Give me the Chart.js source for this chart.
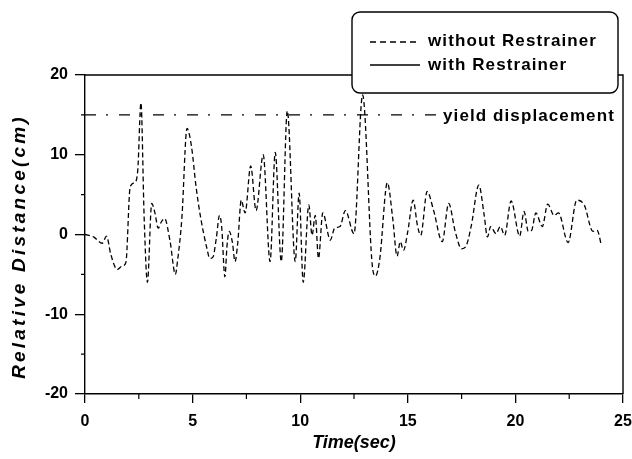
<!DOCTYPE html>
<html>
<head>
<meta charset="utf-8">
<script src="https://cdn.jsdelivr.net/npm/chart.js@4"></script>
<style>
  html, body { margin: 0; padding: 0; background: #fff; }
  canvas { display: block; }
</style>
</head>
<body>
<canvas id="chartCanvas" width="632" height="459"></canvas>
<script>
// time axis (sec) and relative distance (cm)
const timeSec = [0, 0.4, 0.8, 1.0, 1.2, 1.5, 1.7, 1.9, 2.1, 2.3, 2.45, 2.6, 2.75, 2.9, 3.1, 3.25, 3.4, 3.55, 3.7, 3.95,
  4.2, 4.3, 4.5, 4.74, 4.95, 5.16, 5.35, 5.67, 5.8, 5.95, 6.1, 6.25, 6.35, 6.5, 6.6, 6.7, 6.85, 6.97, 7.1, 7.26,
  7.44, 7.7, 7.95, 8.28, 8.6, 8.84, 9.12, 9.4, 9.77, 9.95, 10.14, 10.4, 10.55, 10.7, 10.85, 11.05, 11.4, 11.6, 11.85, 12.1,
  12.5, 12.9, 13.35, 13.5, 13.7, 14.05, 14.3, 14.5, 14.65, 14.8, 15.0, 15.25, 15.45, 15.6, 15.9, 16.2, 16.6, 16.9, 17.2, 17.5,
  17.7, 17.95, 18.3, 18.55, 18.7, 18.85, 19.1, 19.3, 19.5, 19.8, 20.2, 20.4, 20.6, 20.75, 20.95, 21.25, 21.5, 21.8, 22.0, 22.45,
  22.85, 23.2, 23.6, 23.8, 24.0];
const withoutRestrainer = [0, -0.3, -1.1, -0.2, -2.5, -4.4, -4.0, -3.5, 6.0, 6.5, 8.0, 16.5, 2.0, -6.0, 3.9, 2.7, 0.8, 1.6, 2.0, -0.8,
  -5.0, -3.3, 2.0, 13.3, 11.0, 6.0, 2.5, -1.8, -3.0, -2.8, -0.5, 2.4, 1.0, -5.3, -1.4, 0.4, -1.0, -3.4, -1.0, 4.3,
  2.7, 8.6, 3.0, 10.0, -3.4, 10.3, -3.4, 15.5, -3.4, 5.2, -6.0, 3.7, -0.1, 2.4, -3.0, 2.7, -0.7, 0.8, 1.0, 3.0,
  0.1, 17.5, -3.9, -5.2, -3.0, 6.5, 2.0, -2.7, -0.9, -2.0, 0.4, 4.3, 1.1, -0.1, 5.4, 3.0, -0.9, 3.9, 0.4, -1.8,
  -1.5, 1.1, 6.2, 2.4, -0.3, 1.0, 0.1, 1.0, -0.1, 4.2, -0.2, 2.9, 0.4, 0.5, 2.7, 1.0, 3.8, 2.4, 2.7, -1.0,
  4.3, 3.7, 0.4, 0.5, -1.4];
const withRestrainer = [];
const yieldTime = [0, 16.5];
const yieldDisp = [15, 15];
const xTicks = [0, 5, 10, 15, 20, 25];
const yTicks = [-20, -10, 0, 10, 20];
const xMinor = [2.5, 7.5, 12.5, 17.5, 22.5];
const yMinor = [-15, -5, 5, 15];

const FONT = '"Liberation Sans", Arial, sans-serif';

const paperPlugin = {
  id: 'paper',
  afterDraw(chart) {
    const ctx = chart.ctx;
    const a = chart.chartArea;
    const xs = chart.scales.x, ys = chart.scales.y;
    ctx.save();
    ctx.strokeStyle = '#000';
    ctx.lineWidth = 1.4;
    // top and right frame
    ctx.beginPath();
    ctx.moveTo(a.left, a.top);
    ctx.lineTo(a.right, a.top);
    ctx.lineTo(a.right, a.bottom);
    ctx.stroke();
    // minor ticks
    ctx.lineWidth = 1.2;
    ctx.beginPath();
    xMinor.forEach(v => {
      const px = xs.getPixelForValue(v);
      ctx.moveTo(px, a.bottom);
      ctx.lineTo(px, a.bottom + 5);
    });
    yMinor.forEach(v => {
      const py = ys.getPixelForValue(v);
      ctx.moveTo(a.left, py);
      ctx.lineTo(a.left - 4, py);
    });
    ctx.stroke();

    // yield displacement label
    const yy = ys.getPixelForValue(yieldDisp[0]);
    ctx.fillStyle = '#000';
    ctx.font = 'bold 17px ' + FONT;
    ctx.letterSpacing = '1.1px';
    ctx.textBaseline = 'middle';
    ctx.textAlign = 'left';
    ctx.fillText('yield displacement', 443, yy + 1);

    // legend box
    const bx = 352, by = 12, bw = 266, bh = 81, r = 8;
    ctx.beginPath();
    ctx.roundRect(bx, by, bw, bh, r);
    ctx.fillStyle = '#fff';
    ctx.fill();
    ctx.lineWidth = 1.4;
    ctx.strokeStyle = '#000';
    ctx.stroke();
    ctx.lineWidth = 1.3;
    ctx.beginPath();
    ctx.setLineDash([6, 4]);
    ctx.moveTo(370, 42);
    ctx.lineTo(420, 42);
    ctx.stroke();
    ctx.setLineDash([]);
    ctx.beginPath();
    ctx.moveTo(370, 65);
    ctx.lineTo(420, 65);
    ctx.stroke();
    ctx.fillStyle = '#000';
    ctx.fillText('without Restrainer', 428, 41);
    ctx.fillText('with Restrainer', 428, 65);

    // y axis title
    ctx.font = 'bold italic 19px ' + FONT;
    ctx.letterSpacing = '3.2px';
    ctx.textAlign = 'center';
    ctx.translate(20, (a.top + a.bottom) / 2 + 12);
    ctx.rotate(-Math.PI / 2);
    ctx.fillText('Relative Distance(cm)', 0, 0);
    ctx.restore();
  }
};

const ctx = document.getElementById('chartCanvas').getContext('2d');
new Chart(ctx, {
  type: 'line',
  data: {
    datasets: [
      {
        label: 'without Restrainer',
        data: timeSec.map((t, i) => ({ x: t, y: withoutRestrainer[i] })),
        borderColor: '#000',
        borderWidth: 1.3,
        borderDash: [5, 3],
        pointRadius: 0,
        cubicInterpolationMode: 'monotone',
        fill: false
      },
      {
        label: 'with Restrainer',
        data: withRestrainer,
        borderColor: '#000',
        borderWidth: 1.3,
        pointRadius: 0
      },
      {
        label: 'yield displacement',
        data: yieldTime.map((t, i) => ({ x: t, y: yieldDisp[i] })),
        borderColor: '#000',
        borderWidth: 1.3,
        borderDash: [11, 10, 2, 11],
        pointRadius: 0,
        tension: 0
      }
    ]
  },
  options: {
    responsive: false,
    animation: false,
    layout: { padding: { top: 75, right: 9, left: 0, bottom: 0 } },
    plugins: {
      legend: { display: false },
      tooltip: { enabled: false }
    },
    scales: {
      x: {
        type: 'linear',
        min: 0,
        max: 25,
        afterBuildTicks: s => { s.ticks = xTicks.map(v => ({ value: v })); },
        afterFit: s => { s.height = 65; s.paddingLeft = 0; s.paddingRight = 0; },
        grid: { drawOnChartArea: false, drawTicks: true, tickLength: 9, color: '#000', lineWidth: 1.3 },
        border: { display: true, color: '#000', width: 1.4 },
        ticks: {
          color: '#000',
          padding: 9,
          maxRotation: 0,
          font: { family: FONT, size: 16, weight: 'bold' }
        },
        title: {
          display: true,
          text: 'Time(sec)',
          color: '#000',
          padding: { top: 0, bottom: 5 },
          font: { family: FONT, size: 18, weight: 'bold', style: 'italic' }
        }
      },
      y: {
        type: 'linear',
        min: -20,
        max: 20,
        afterBuildTicks: s => { s.ticks = yTicks.map(v => ({ value: v })); },
        afterFit: s => { s.width = 85; s.paddingTop = 0; s.paddingBottom = 0; },
        grid: { drawOnChartArea: false, drawTicks: true, tickLength: 10, color: '#000', lineWidth: 1.3 },
        border: { display: true, color: '#000', width: 1.4 },
        ticks: {
          color: '#000',
          padding: 7,
          font: { family: FONT, size: 16, weight: 'bold' }
        }
      }
    }
  },
  plugins: [paperPlugin]
});
</script>
</body>
</html>
